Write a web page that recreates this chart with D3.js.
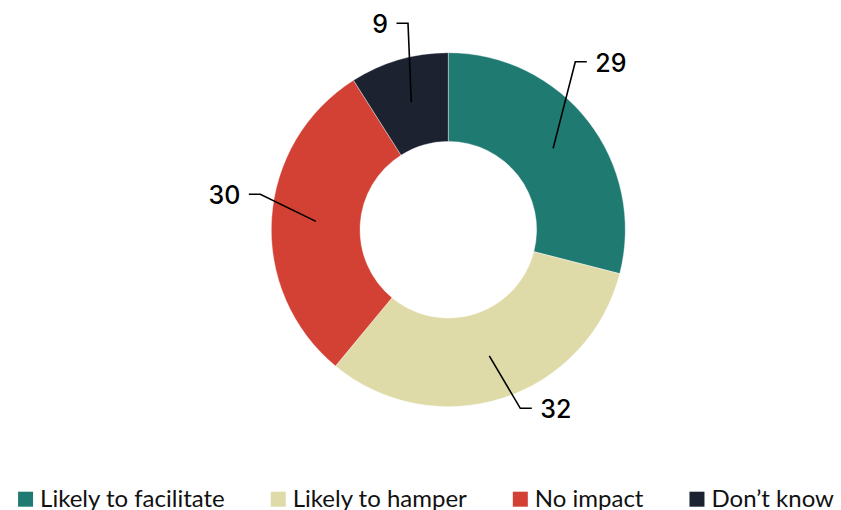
<!DOCTYPE html>
<html>
<head>
<meta charset="utf-8">
<script src="https://cdn.jsdelivr.net/npm/d3@7"></script>
<style>
  html, body { margin: 0; padding: 0; background: #fff; }
  svg { display: block; }
</style>
</head>
<body>
<svg id="chart" width="841" height="510"></svg>
<script>
const categories = ["Likely to facilitate", "Likely to hamper", "No impact", "Don\u2019t know"];
const values = [29, 32, 30, 9];
const colors = ["#1f7a71", "#dfdba8", "#d24133", "#1c2230"];
// label elbow offsets from the centre (layout only)
const elbows = [[127, -168], [72, 178.6], [-188, -35.4], [-40.3, -206.4]];

const width = 841, height = 510;
const cx = 448.3, cy = 229.7, outerR = 177, innerR = 88.3;

const svg = d3.select("#chart");
const g = svg.append("g").attr("transform", `translate(${cx},${cy})`);

const data = categories.map((c, i) => ({ name: c, value: values[i], color: colors[i], elbow: elbows[i] }));

const pie = d3.pie().value(d => d.value).sort(null);
const arc = d3.arc().innerRadius(innerR).outerRadius(outerR);
const midArc = d3.arc().innerRadius((innerR + outerR) / 2).outerRadius((innerR + outerR) / 2);
const arcs = pie(data);

g.selectAll("path.slice").data(arcs).join("path")
  .attr("class", "slice")
  .attr("d", arc)
  .attr("fill", d => d.data.color)
  .attr("stroke", "#ffffff")
  .attr("stroke-width", 0.4);

const h2 = 11.5;
arcs.forEach(a => {
  const p0 = midArc.centroid(a);
  const e = a.data.elbow;
  const right = e[0] > 0;
  const p2 = [e[0] + (right ? h2 : -h2), e[1]];
  g.append("polyline")
    .attr("points", [p0, e, p2].map(p => p.join(",")).join(" "))
    .attr("fill", "none")
    .attr("stroke", "#000")
    .attr("stroke-width", 1.6);
  g.append("text")
    .attr("x", p2[0] + (right ? 8.5 : -8.5))
    .attr("y", p2[1] + 1)
    .attr("text-anchor", right ? "start" : "end")
    .attr("dominant-baseline", "central")
    .attr("font-family", "Inter, 'DejaVu Sans', sans-serif")
    .attr("font-size", 25)
    .attr("font-weight", 500)
    .attr("fill", "#000")
    .text(a.data.value);
});

// legend
const legend = svg.append("g");
const sw = 15, gapText = 7, gapItem = 46;
let x = 0;
data.forEach(d => {
  const it = legend.append("g");
  it.append("rect").attr("x", 0).attr("y", -15).attr("width", sw).attr("height", sw).attr("fill", d.color);
  const t = it.append("text")
    .attr("x", sw + gapText)
    .attr("y", 0)
    .attr("font-family", "Lato, 'Liberation Sans Narrow', sans-serif")
    .attr("font-size", 24)
    .attr("fill", "#111")
    .text(d.name);
  const w = t.node().getComputedTextLength();
  it.attr("transform", `translate(${x},0)`);
  x += sw + gapText + w + gapItem;
});
const total = x - gapItem;
legend.attr("transform", `translate(${426 - total / 2},506.7)`);
</script>
</body>
</html>
